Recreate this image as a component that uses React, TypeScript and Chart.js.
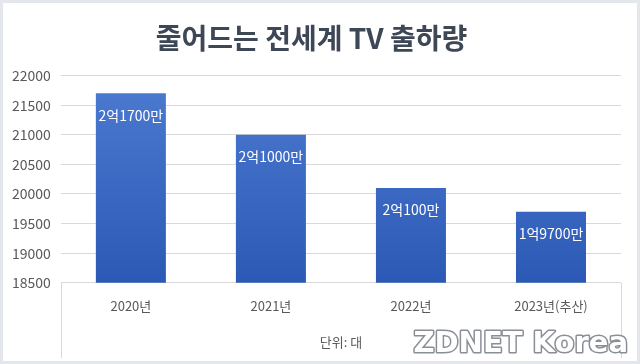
import React, { useEffect, useRef } from "react";
import { Chart, registerables } from "chart.js";

Chart.register(...registerables);

const categories = ["2020년", "2021년", "2022년", "2023년(추산)"];
const shipments = [21700, 21000, 20100, 19700];
const barLabels = ["2억1700만", "2억1000만", "2억100만", "1억9700만"];
const titleText = "줄어드는 전세계 TV 출하량";
const unitText = "단위: 대";
const watermark = "ZDNET Korea";

const FONT = "'Noto Sans CJK KR', 'Noto Sans', sans-serif";

const framePlugin = {
  id: "frame",
  beforeDraw(chart: any) {
    const { ctx, width, height } = chart;
    ctx.save();
    ctx.fillStyle = "#e3e7eb";
    ctx.fillRect(0, 0, width, height);
    ctx.fillStyle = "#ffffff";
    ctx.fillRect(3, 3, width - 6, height - 6);
    ctx.restore();
  },
  afterDraw(chart: any) {
    const { ctx, chartArea, height, width } = chart;
    ctx.save();
    ctx.strokeStyle = "#d9d9d9";
    ctx.lineWidth = 1;
    ctx.beginPath();
    ctx.moveTo(Math.round(chartArea.left) + 0.5, chartArea.bottom);
    ctx.lineTo(Math.round(chartArea.left) + 0.5, height - 6);
    ctx.moveTo(Math.round(chartArea.right) + 0.5, chartArea.bottom);
    ctx.lineTo(Math.round(chartArea.right) + 0.5, height - 6);
    ctx.stroke();
    // watermark
    ctx.font = `bold 29px 'DejaVu Sans', sans-serif`;
    ctx.textAlign = "right";
    ctx.textBaseline = "middle";
    ctx.lineJoin = "round";
    ctx.strokeStyle = "#8a8f96";
    ctx.lineWidth = 3;
    ctx.strokeText(watermark, width - 12, 344);
    ctx.fillStyle = "#ffffff";
    ctx.fillText(watermark, width - 12, 344);
    ctx.restore();
  },
};

const labelPlugin = {
  id: "barLabels",
  afterDatasetsDraw(chart: any) {
    const { ctx } = chart;
    const meta = chart.getDatasetMeta(0);
    ctx.save();
    ctx.font = `14px ${FONT}`;
    ctx.fillStyle = "#ffffff";
    ctx.textAlign = "center";
    ctx.textBaseline = "middle";
    meta.data.forEach((bar: any, i: number) => {
      ctx.fillText(barLabels[i], bar.x, bar.y + 22);
    });
    ctx.restore();
  },
};

export default function App() {
  const ref = useRef<HTMLCanvasElement | null>(null);
  useEffect(() => {
    if (!ref.current) return;
    const chart = new Chart(ref.current, {
      type: "bar",
      data: {
        labels: categories,
        datasets: [
          {
            data: shipments,
            backgroundColor: (c: any) => {
              const area = c.chart.chartArea;
              if (!area) return "#3a68c4";
              const g = c.chart.ctx.createLinearGradient(0, area.top, 0, area.bottom);
              g.addColorStop(0, "#4d7bd1");
              g.addColorStop(1, "#2b59b5");
              return g;
            },
            borderWidth: 0,
            barPercentage: 0.5,
            categoryPercentage: 1,
          },
        ],
      },
      options: {
        animation: false,
        responsive: false,
        maintainAspectRatio: false,
        layout: { padding: { left: 2, right: 19, top: 0, bottom: 4 } },
        plugins: {
          legend: { display: false },
          tooltip: { enabled: false },
          title: {
            display: true,
            text: titleText,
            color: "#3d4756",
            font: { family: FONT, size: 28, weight: "bold" },
            padding: { top: 22, bottom: 20 },
          },
        },
        scales: {
          x: {
            grid: { display: false },
            border: { display: false },
            ticks: {
              color: "#595959",
              font: { family: FONT, size: 13 },
              padding: 7,
            },
            title: {
              display: true,
              text: unitText,
              color: "#595959",
              font: { family: FONT, size: 13 },
              padding: { top: 14, bottom: 10 },
            },
          },
          y: {
            min: 18500,
            max: 22000,
            grid: { color: "#d9d9d9", drawTicks: false },
            border: { display: false },
            ticks: {
              stepSize: 500,
              color: "#595959",
              font: { family: FONT, size: 14 },
              padding: 10,
              callback: (v: any) => String(v),
            },
          },
        },
      },
      plugins: [framePlugin, labelPlugin],
    });
    return () => chart.destroy();
  }, []);
  return (
    <div style={{ position: "fixed", left: 0, top: 0, width: 640, height: 364 }}>
      <canvas ref={ref} width={640} height={364} style={{ width: 640, height: 364, display: "block" }} />
    </div>
  );
}
